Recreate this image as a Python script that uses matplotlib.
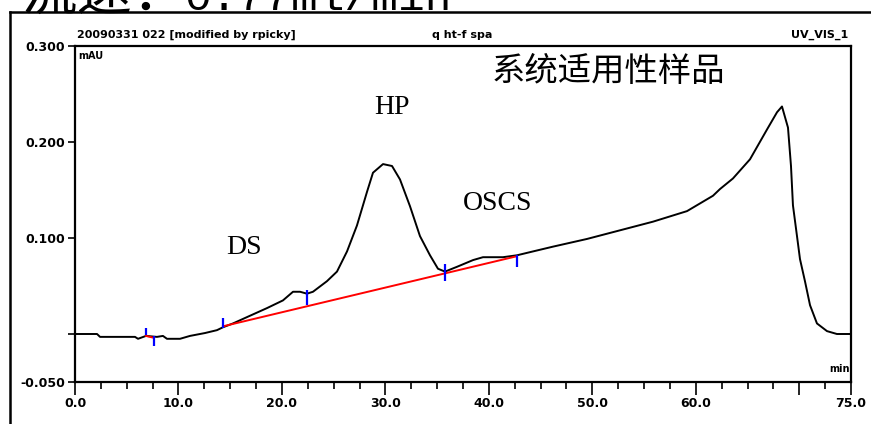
import numpy as np
import matplotlib.pyplot as plt
from matplotlib.lines import Line2D

W, H = 871, 424

# chromatogram trace (min, mAU)
t = [0.0, 2.13, 2.42, 5.80, 6.09, 6.86, 7.92, 8.50, 8.89, 10.15, 11.11, 12.56,
     13.72, 14.30, 15.27, 16.91, 18.56, 20.10, 21.07, 21.75, 22.42, 23.0, 24.35,
     25.32, 26.29, 27.25, 28.22, 28.80, 29.77, 30.64, 31.41, 32.38, 33.34, 34.31,
     35.08, 35.76, 36.92, 38.47, 39.43, 41.36, 42.72, 44.26, 46.20, 49.48, 52.67,
     55.86, 59.15, 61.66, 62.34, 63.59, 65.24, 66.88, 67.85, 68.33, 68.91, 69.20,
     69.39, 69.78, 70.07, 70.55, 71.04, 71.71, 72.68, 73.64, 75.0]
mau = [0.0, 0.0, -0.003, -0.003, -0.005, -0.002, -0.003, -0.002, -0.005, -0.005,
       -0.002, 0.001, 0.004, 0.007, 0.011, 0.019, 0.027, 0.035, 0.044, 0.044,
       0.042, 0.044, 0.055, 0.065, 0.086, 0.113, 0.148, 0.168, 0.177, 0.175,
       0.161, 0.133, 0.102, 0.082, 0.068, 0.065, 0.070, 0.077, 0.080, 0.080,
       0.082, 0.086, 0.091, 0.099, 0.108, 0.117, 0.128, 0.144, 0.151, 0.162,
       0.182, 0.213, 0.231, 0.237, 0.215, 0.175, 0.134, 0.102, 0.078, 0.055,
       0.030, 0.011, 0.003, 0.0, 0.0]

# peak start/end markers
marks_t = [6.86, 7.64, 14.3, 22.4, 35.8, 42.7]
marks_lo = [-0.001, -0.012, 0.006, 0.030, 0.055, 0.070]
marks_hi = [0.006, -0.002, 0.017, 0.046, 0.073, 0.082]

# integration baselines
base1_t = [6.86, 7.64]
base1_y = [-0.002, -0.004]
base2_t = [14.3, 42.7]
base2_y = [0.008, 0.081]

xticks = [0, 10, 20, 30, 40, 50, 60, 70, 75]
xlabels = ['0.0', '10.0', '20.0', '30.0', '40.0', '50.0', '60.0', '', '75.0']
yticks = [-0.05, 0.0, 0.1, 0.2, 0.3]
ylabels = ['-0.050', '', '0.100', '0.200', '0.300']

fig = plt.figure(figsize=(W/100, H/100), dpi=100)
ax = fig.add_axes([75/W, 1-382/H, (851-75)/W, (382-46)/H])

ax.plot(t, mau, c='k', lw=1.4, zorder=2)
ax.plot(base1_t, base1_y, c='r', lw=1.4, zorder=3)
ax.plot(base2_t, base2_y, c='r', lw=1.4, zorder=3)
ax.vlines(marks_t, marks_lo, marks_hi, colors='b', lw=1.6, zorder=4)

ax.set_xlim(0, 75)
ax.set_ylim(-0.05, 0.3)
ax.set_xticks(xticks)
ax.set_xticklabels(xlabels)
ax.set_xticks(np.arange(0, 75, 2.5), minor=True)
ax.set_yticks(yticks)
ax.set_yticklabels(ylabels)
ax.tick_params(axis='x', which='major', length=9.5, width=1.2, pad=1.5,
               labelsize=9)
ax.tick_params(axis='x', which='minor', length=5, width=1.2)
ax.tick_params(axis='y', which='major', length=5, width=1.2, pad=2, labelsize=9)
for lab in ax.get_xticklabels() + ax.get_yticklabels():
    lab.set_fontweight('bold')
for s in ax.spines.values():
    s.set_linewidth(1.6)

ax.text(0.004, 0.985, 'mAU', transform=ax.transAxes, ha='left', va='top',
        fontsize=7, fontweight='bold')
ax.text(0.998, 0.025, 'min', transform=ax.transAxes, ha='right', va='bottom',
        fontsize=7, fontweight='bold')

# peak labels
ax.text(30.6, 0.236, 'HP', ha='center', va='center', fontsize=20,
        family='Liberation Serif')
ax.text(16.3, 0.090, 'DS', ha='center', va='center', fontsize=20,
        family='Liberation Serif')
ax.text(40.8, 0.136, 'OSCS', ha='center', va='center', fontsize=20,
        family='Liberation Serif')
ax.text(51.6, 0.273, '系统适用性样品', ha='center', va='center', fontsize=24,
        family='Noto Sans CJK SC')

# report header
fig.text(77/W, 1-38/H, '20090331 022 [modified by rpicky]', ha='left',
         va='baseline', fontsize=8, fontweight='bold')
fig.text(462/W, 1-38/H, 'q ht-f spa', ha='center', va='baseline',
         fontsize=8, fontweight='bold')
fig.text(848/W, 1-38/H, 'UV_VIS_1', ha='right', va='baseline',
         fontsize=8, fontweight='bold')

# flow rate note above the frame
fig.text(22/W, 1-10/H, '流速：', ha='left', va='baseline', fontsize=40,
         family='Noto Sans CJK SC')
fig.text(184/W, 1-10/H, '0.77ml/min', ha='left', va='baseline', fontsize=32,
         family='Liberation Mono')

# outer frame
fig.add_artist(Line2D([10/W, 1], [1-12/H, 1-12/H], transform=fig.transFigure,
                      color='k', lw=1.8))
fig.add_artist(Line2D([10/W, 10/W], [0, 1-12/H], transform=fig.transFigure,
                      color='k', lw=1.8))

plt.savefig('out.png', dpi=100)
